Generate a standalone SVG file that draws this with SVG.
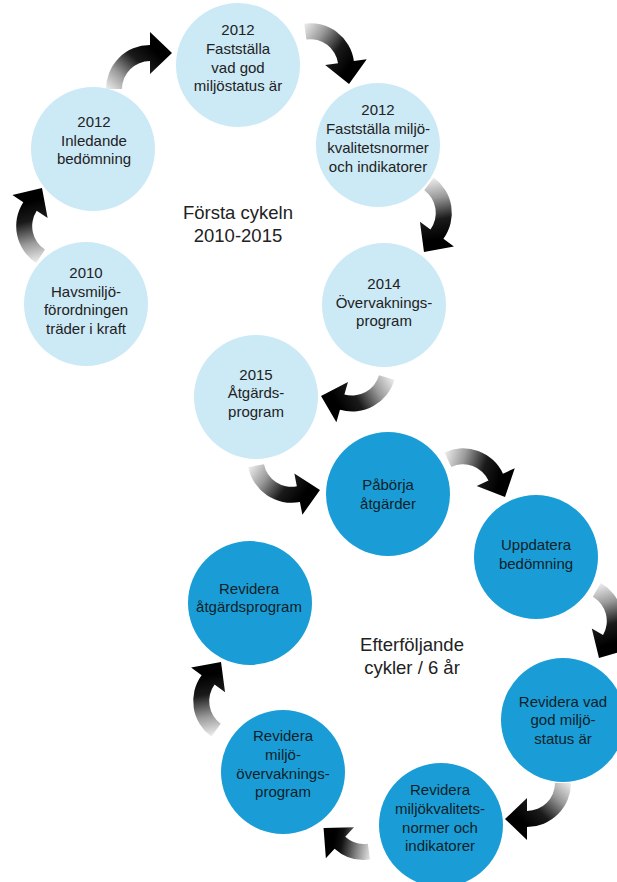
<svg xmlns="http://www.w3.org/2000/svg" xmlns:xlink="http://www.w3.org/1999/xlink" width="617" height="882" viewBox="0 0 617 882">
<style>
.light{fill:#cce9f6}
.dark{fill:#1a9dd6}
.t{font-family:"Liberation Sans",Arial,sans-serif;font-size:15px;fill:#222;text-anchor:middle}
.td{font-family:"Liberation Sans",Arial,sans-serif;font-size:15px;fill:#0e1f29;text-anchor:middle}
.big{font-family:"Liberation Sans",Arial,sans-serif;font-size:18.5px;fill:#222;text-anchor:middle}
</style>
<defs>
<linearGradient id="g" gradientUnits="userSpaceOnUse" x1="-38" y1="8" x2="5" y2="-38">
<stop offset="0" stop-color="#f6f6f6"/>
<stop offset="0.35" stop-color="#9a9a9a"/>
<stop offset="0.7" stop-color="#1a1a1a"/>
<stop offset="1" stop-color="#000"/>
</linearGradient>
<linearGradient id="gs" gradientUnits="userSpaceOnUse" x1="-30" y1="-18" x2="5" y2="-40">
<stop offset="0" stop-color="#f6f6f6"/>
<stop offset="0.4" stop-color="#8a8a8a"/>
<stop offset="0.8" stop-color="#111"/>
<stop offset="1" stop-color="#000"/>
</linearGradient>
<path id="arr" fill="url(#g)" d="M -44 0 A 44 44 0 0 1 0 -44 L 0 -57 L 22 -36 L 0 -15 L 0 -28 A 28 28 0 0 0 -28 0 Z"/>
<path id="arrS" fill="url(#gs)" d="M -33.7 -28.3 A 44 44 0 0 1 0 -44 L 0 -57 L 22 -36 L 0 -15 L 0 -28 A 28 28 0 0 0 -21.4 -18 Z"/>
</defs>

<g id="connectors">
<use xlink:href="#arr" href="#arr" transform="translate(60.2,226.1) rotate(-57)"/>
<use xlink:href="#arr" href="#arr" transform="translate(150,89)"/>
<use xlink:href="#arr" href="#arr" transform="translate(310.3,67.2) rotate(82)"/>
<use xlink:href="#arr" href="#arr" transform="translate(407.8,213) rotate(126)"/>
<use xlink:href="#arr" href="#arr" transform="translate(352.1,367.5) rotate(196)"/>
<use xlink:href="#arr" href="#arr" transform="translate(291.5,458.8) rotate(-11) scale(1,-1)"/>
<use xlink:href="#arr" href="#arr" transform="translate(463.1,492.3) rotate(65)"/>
<use xlink:href="#arr" href="#arr" transform="translate(578.8,621) rotate(120)"/>
<use xlink:href="#arr" href="#arr" transform="translate(527,783) rotate(180)"/>
<use xlink:href="#arrS" href="#arrS" transform="translate(364,816) rotate(222)"/>
<use xlink:href="#arr" href="#arr" transform="translate(237.2,701) rotate(-54)"/>
</g>

<g id="n1">
<circle class="light" cx="238" cy="65" r="62"/>
<text class="t"><tspan x="238" y="35">2012</tspan><tspan x="238" y="54">Fastställa</tspan><tspan x="238" y="72.5">vad god</tspan><tspan x="238" y="91">miljöstatus är</tspan></text>
</g>
<g id="n2">
<circle class="light" cx="93" cy="149" r="62"/>
<text class="t"><tspan x="94" y="127">2012</tspan><tspan x="94" y="146">Inledande</tspan><tspan x="94" y="164">bedömning</tspan></text>
</g>
<g id="n3">
<circle class="light" cx="378" cy="145" r="62"/>
<text class="t"><tspan x="378" y="115">2012</tspan><tspan x="378" y="133.5">Fastställa miljö-</tspan><tspan x="378" y="152.5">kvalitetsnormer</tspan><tspan x="378" y="171.5">och indikatorer</tspan></text>
</g>
<g id="n4">
<circle class="light" cx="384" cy="305" r="62"/>
<text class="t"><tspan x="384" y="289">2014</tspan><tspan x="384" y="308">Övervaknings-</tspan><tspan x="384" y="326">program</tspan></text>
</g>
<g id="n5">
<circle class="light" cx="86" cy="304" r="62"/>
<text class="t"><tspan x="86" y="278">2010</tspan><tspan x="86" y="297">Havsmiljö-</tspan><tspan x="86" y="315">förordningen</tspan><tspan x="86" y="333.5">träder i kraft</tspan></text>
</g>
<g id="n6">
<circle class="light" cx="256" cy="397" r="62"/>
<text class="t"><tspan x="256" y="379.5">2015</tspan><tspan x="256" y="398">Åtgärds-</tspan><tspan x="256" y="416.5">program</tspan></text>
</g>
<g id="n7">
<circle class="dark" cx="388" cy="494" r="62"/>
<text class="td"><tspan x="388" y="490">Påbörja</tspan><tspan x="388" y="508.5">åtgärder</tspan></text>
</g>
<g id="n8">
<circle class="dark" cx="536" cy="557" r="62"/>
<text class="td"><tspan x="536" y="550">Uppdatera</tspan><tspan x="536" y="568.5">bedömning</tspan></text>
</g>
<g id="n9">
<circle class="dark" cx="250" cy="603" r="62"/>
<text class="td"><tspan x="249" y="594">Revidera</tspan><tspan x="249" y="612">åtgärdsprogram</tspan></text>
</g>
<g id="n10">
<circle class="dark" cx="563" cy="720" r="62"/>
<text class="td"><tspan x="563" y="706.5">Revidera vad</tspan><tspan x="563" y="725">god miljö-</tspan><tspan x="563" y="743.5">status är</tspan></text>
</g>
<g id="n11">
<circle class="dark" cx="441" cy="825" r="62"/>
<text class="td"><tspan x="440" y="795">Revidera</tspan><tspan x="440" y="813.5">miljökvalitets-</tspan><tspan x="440" y="832.5">normer och</tspan><tspan x="440" y="851">indikatorer</tspan></text>
</g>
<g id="n12">
<circle class="dark" cx="283" cy="772" r="62"/>
<text class="td"><tspan x="283" y="741">Revidera</tspan><tspan x="283" y="759.5">miljö-</tspan><tspan x="283" y="778.5">övervaknings-</tspan><tspan x="283" y="797">program</tspan></text>
</g>

<g id="labels">
<text class="big"><tspan x="238" y="219">Första cykeln</tspan><tspan x="238" y="242">2010-2015</tspan></text>
<text class="big"><tspan x="412" y="651">Efterföljande</tspan><tspan x="412" y="674">cykler / 6 år</tspan></text>
</g>
</svg>
